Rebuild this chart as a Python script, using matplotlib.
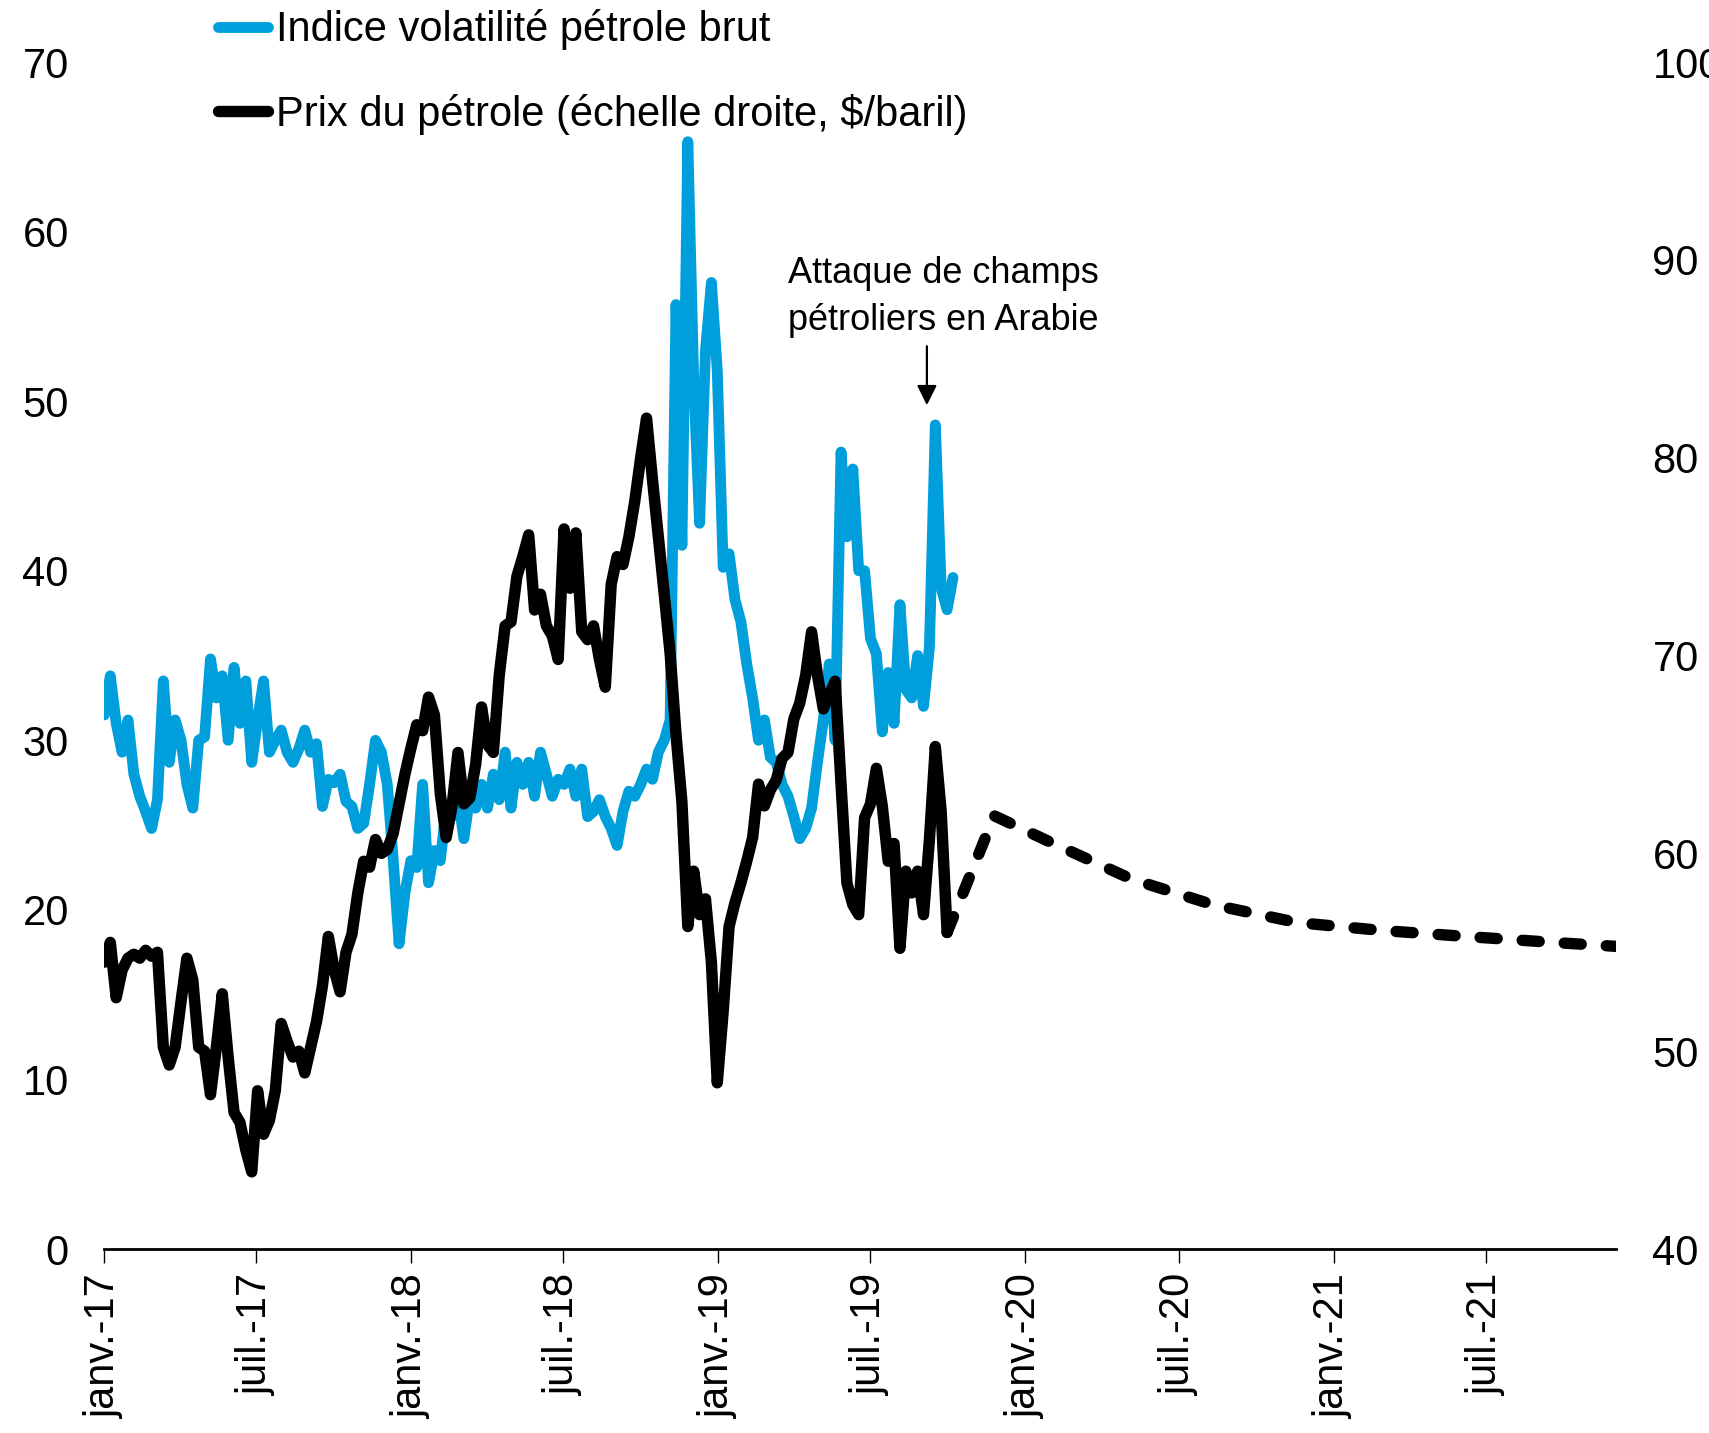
import matplotlib
matplotlib.use('Agg')
import matplotlib.pyplot as plt
from matplotlib.lines import Line2D
import pandas as pd

plt.rcParams['font.family'] = ['Liberation Sans', 'DejaVu Sans']

# ---------------- data ----------------
start_date = '2017-01-02'   # weekly observations

vol_values = [
    31.5, 33.8, 31.0, 29.3, 31.2, 28.0, 26.7, 25.8, 24.8, 26.5,
    33.5, 28.7, 31.2, 30.0, 27.4, 26.0, 30.0, 30.2, 34.8, 32.5,
    33.8, 30.0, 34.3, 31.0, 33.5, 28.7, 31.2, 33.5, 29.3, 30.0,
    30.6, 29.3, 28.7, 29.5, 30.6, 29.3, 29.8, 26.1, 27.7, 27.5,
    28.0, 26.4, 26.1, 24.8, 25.1, 27.4, 30.0, 29.3, 27.4, 23.0,
    18.0, 21.0, 22.9, 22.5, 27.4, 21.6, 23.5, 22.9, 26.0, 25.5,
    26.7, 24.2, 26.7, 26.0, 27.4, 26.0, 28.0, 26.5, 29.3, 26.0,
    28.7, 27.4, 28.7, 26.7, 29.3, 28.0, 26.7, 27.7, 27.4, 28.3,
    26.7, 28.3, 25.5, 25.8, 26.5, 25.5, 24.8, 23.8, 25.8, 27.0,
    26.7, 27.4, 28.3, 27.7, 29.3, 30.0, 31.2, 55.7, 41.5, 65.3,
    51.2, 42.8, 53.0, 57.0, 51.8, 40.2, 41.0, 38.3, 37.0, 34.5,
    32.5, 30.0, 31.2, 29.0, 28.7, 27.4, 26.7, 25.5, 24.2, 24.8,
    26.0, 28.7, 31.2, 34.5, 30.0, 47.0, 42.0, 46.0, 40.0, 40.0,
    36.0, 35.1, 30.5, 34.0, 31.0, 38.0, 33.0, 32.5, 35.0, 32.0,
    35.5, 48.6, 39.0, 37.7, 39.6,
]

price_values = [
    54.5, 55.5, 52.7, 54.1, 54.7, 54.9, 54.7, 55.1, 54.8, 55.0,
    50.2, 49.3, 50.2, 52.5, 54.7, 53.6, 50.2, 50.0, 47.8, 50.2,
    52.9, 49.7, 46.9, 46.4, 45.0, 43.9, 48.0, 45.8, 46.5, 48.0,
    51.4, 50.5, 49.7, 50.0, 48.9, 50.2, 51.5, 53.3, 55.8, 54.1,
    53.0, 55.0, 55.9, 58.0, 59.6, 59.3, 60.7, 60.0, 60.2, 61.0,
    62.5, 64.0, 65.3, 66.5, 66.2, 67.9, 67.0, 63.0, 60.8, 62.4,
    65.1, 62.5, 62.8, 64.5, 67.4, 65.5, 65.1, 69.0, 71.5, 71.7,
    74.0, 75.0, 76.1, 72.3, 73.1, 71.5, 71.0, 69.8, 76.4, 73.4,
    76.2, 71.2, 70.8, 71.5, 69.8, 68.4, 73.6, 75.0, 74.6, 76.0,
    77.8, 80.0, 82.0, 78.9, 76.0, 73.1, 70.1, 66.0, 62.6, 56.3,
    59.1, 56.9, 57.7, 54.5, 48.4, 52.0, 56.3, 57.5, 58.5, 59.6,
    60.8, 63.5, 62.4, 63.2, 63.7, 64.8, 65.1, 66.8, 67.6, 69.0,
    71.2, 69.0, 67.3, 68.0, 68.7, 63.5, 58.5, 57.4, 56.9, 61.8,
    62.5, 64.3, 62.4, 59.6, 60.5, 55.2, 59.1, 58.0, 59.1, 56.9,
    60.7, 65.4, 62.1, 56.0,
]

forecast_dates = ['2019-11-25', '2020-02-03', '2020-05-06', '2020-08-11',
                  '2020-11-19', '2021-02-28', '2021-06-07', '2021-09-18',
                  '2021-12-02']
forecast_values = [61.9, 60.5, 58.7, 57.4, 56.5, 56.1, 55.8, 55.5, 55.3]

tick_dates = ['2017-01-01', '2017-07-01', '2018-01-01', '2018-07-01',
              '2019-01-01', '2019-07-01', '2020-01-01', '2020-07-01',
              '2021-01-01', '2021-07-01']
tick_labels = ['janv.-17', 'juil.-17', 'janv.-18', 'juil.-18', 'janv.-19',
               'juil.-19', 'janv.-20', 'juil.-20', 'janv.-21', 'juil.-21']

label_vol = 'Indice volatilité pétrole brut'
label_price = 'Prix du pétrole (échelle droite, $/baril)'
annotation_text = 'Attaque de champs\npétroliers en Arabie'
attack_date = '2019-09-06'

# ---------------- build ----------------
vol_dates = pd.date_range(start_date, periods=len(vol_values), freq='7D')
price_dates = pd.date_range(start_date, periods=len(price_values), freq='7D')
fc_dates = [price_dates[-1]] + list(pd.to_datetime(forecast_dates))
fc_values = [price_values[-1]] + forecast_values

BLUE = '#009EDB'
FS = 30
LW_B = 7.8
LW_K = 8.2

fig = plt.figure(figsize=(17.09, 14.33), dpi=100)
ax = fig.add_axes([0.0606, 0.1284, 0.8852, 0.8283])
ax2 = ax.twinx()

ax.plot(vol_dates, vol_values, color=BLUE, lw=LW_B,
        solid_joinstyle='round', solid_capstyle='round')
ax2.plot(price_dates, price_values, color='black', lw=LW_K,
         solid_joinstyle='round', solid_capstyle='round')
ax2.plot(fc_dates, fc_values, color='black', lw=LW_K, dashes=(1.5, 2.2),
         dash_capstyle='round', dash_joinstyle='round')

ax.set_ylim(0, 70)
ax2.set_ylim(40, 100)
ax.set_yticks(range(0, 71, 10))
ax2.set_yticks(range(40, 101, 10))
ax.set_xlim(pd.Timestamp('2017-01-01'), pd.Timestamp('2021-12-03'))
ax.set_xticks(pd.to_datetime(tick_dates))
ax.set_xticklabels(tick_labels, rotation=90, fontsize=FS)

for a in (ax, ax2):
    for s in ('top', 'left', 'right', 'bottom'):
        a.spines[s].set_visible(False)
ax.spines['bottom'].set_visible(True)
ax.spines['bottom'].set_linewidth(2)

ax.tick_params(axis='y', length=0, labelsize=FS, pad=25)
ax2.tick_params(axis='y', length=0, labelsize=FS, pad=26)
ax.tick_params(axis='x', length=10, width=1, direction='out', pad=8)

# annotation
ad = pd.Timestamp(attack_date)
ax.annotate('', xy=(ad, 49.6), xytext=(ad, 53.4),
            arrowprops=dict(arrowstyle='-|>', color='black', lw=1.6,
                            mutation_scale=30))
ax.text(pd.Timestamp('2019-09-25'), 53.7, annotation_text, ha='center',
        va='bottom', fontsize=26, linespacing=1.45)

# legend
handles = [Line2D([], [], color=BLUE, lw=LW_B, solid_capstyle='round'),
           Line2D([], [], color='black', lw=LW_K, solid_capstyle='round')]
fig.legend(handles, [label_vol, label_price], loc='upper left',
           bbox_to_anchor=(0.1276, 0.9935), frameon=False, fontsize=FS,
           handlelength=1.2, handletextpad=0.2, labelspacing=1.05,
           borderpad=0, borderaxespad=0)

fig.savefig('out.png', dpi=100)
